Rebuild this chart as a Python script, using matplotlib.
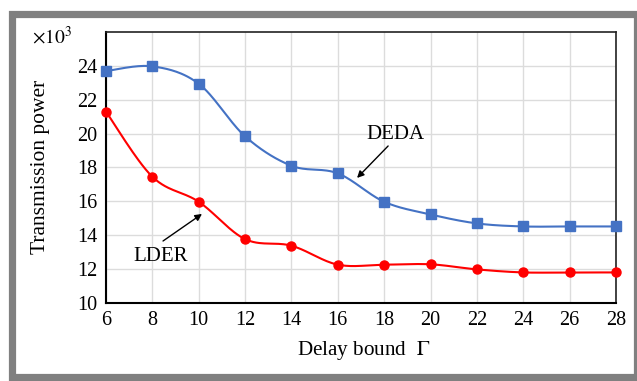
import matplotlib
matplotlib.use("Agg")
import matplotlib.pyplot as plt
import numpy as np
from matplotlib.patches import Rectangle

# data (values in units of 10^3)
delay_bound = [6, 8, 10, 12, 14, 16, 18, 20, 22, 24, 26, 28]
deda = [23.7, 23.98, 22.95, 19.84, 18.1, 17.65, 15.97, 15.22, 14.69, 14.51, 14.51, 14.51]
lder = [21.3, 17.45, 15.97, 13.76, 13.37, 12.25, 12.25, 12.27, 11.97, 11.79, 11.79, 11.79]
y_ticks = [10, 12, 14, 16, 18, 20, 22, 24]

plt.rcParams['font.family'] = ['Liberation Serif', 'DejaVu Serif']
plt.rcParams['mathtext.fontset'] = 'stix'


def smooth(xs, ys, n=30):
    # Bezier smoothing through the points, like spreadsheet "smoothed line"
    x = np.asarray(xs, float)
    y = np.asarray(ys, float)
    px = np.concatenate([[x[0]], x, [x[-1]]])
    py = np.concatenate([[y[0]], y, [y[-1]]])
    out_x, out_y = [], []
    t = np.linspace(0, 1, n)
    for i in range(1, len(px) - 2):
        p0 = np.array([px[i], py[i]])
        p3 = np.array([px[i + 1], py[i + 1]])
        p1 = p0 + (np.array([px[i + 1], py[i + 1]]) - np.array([px[i - 1], py[i - 1]])) / 6
        p2 = p3 - (np.array([px[i + 2], py[i + 2]]) - np.array([px[i], py[i]])) / 6
        b = ((1 - t) ** 3)[:, None] * p0 + (3 * (1 - t) ** 2 * t)[:, None] * p1 \
            + (3 * (1 - t) * t ** 2)[:, None] * p2 + (t ** 3)[:, None] * p3
        out_x.extend(b[:, 0])
        out_y.extend(b[:, 1])
    return out_x, out_y


W, H = 637, 381
fig = plt.figure(figsize=(W / 100, H / 100), dpi=100)
ax = fig.add_axes([106 / W, 1 - 302.7 / H, (616 - 106) / W, (302.7 - 32.2) / H])

blue = '#4472C4'
red = '#FF0000'
sx, sy = smooth(delay_bound, deda)
ax.plot(sx, sy, color=blue, lw=1.5, zorder=3)
ax.plot(delay_bound, deda, ls='none', marker='s', ms=6.5, color=blue, zorder=4, clip_on=False)
sx, sy = smooth(delay_bound, lder)
ax.plot(sx, sy, color=red, lw=1.5, zorder=3)
ax.plot(delay_bound, lder, ls='none', marker='o', ms=6.5, color=red, zorder=4, clip_on=False)

ax.set_xlim(6, 28)
ax.set_ylim(10, 26)
ax.set_xticks(delay_bound)
ax.set_yticks(y_ticks)
ax.tick_params(length=0, labelsize=14.5, pad=6)
ax.grid(True, color='#dcdcdc', lw=1)
ax.set_axisbelow(True)
for side in ['left', 'bottom']:
    ax.spines[side].set_linewidth(1.5)
    ax.spines[side].set_color('black')
for side in ['top', 'right']:
    ax.spines[side].set_linewidth(1.2)
    ax.spines[side].set_color('#222222')

fig.text(41 / W, 1 - 167 / H, 'Transmission power', fontsize=15.5, rotation=90,
         ha='center', va='center')
fig.text(364 / W, 1 - 350 / H, r'Delay bound  $\Gamma$', fontsize=15.2,
         ha='center', va='center')
fig.text(32 / W, 1 - 37 / H, r'$\times10^3$', fontsize=14, va='center', ha='left')

ax.text(18.47, 19.92, 'DEDA', fontsize=15, ha='center', va='center')
ax.annotate('', xy=(16.83, 17.38), xytext=(18.17, 19.27),
            arrowprops=dict(arrowstyle='-|>', color='black', lw=1, mutation_scale=10,
                            shrinkA=0, shrinkB=0))
ax.text(8.37, 12.76, 'LDER', fontsize=15, ha='center', va='center')
ax.annotate('', xy=(10.14, 15.25), xytext=(8.46, 13.65),
            arrowprops=dict(arrowstyle='-|>', color='black', lw=1, mutation_scale=10,
                            shrinkA=0, shrinkB=0))

# gray border around the whole picture
fig.patches.append(Rectangle((12 / W, 4 / H), (637 - 12) / W, (377 - 9.5 - 4) / H,
                             transform=fig.transFigure, fill=False,
                             edgecolor='#808080', lw=5.2))

fig.savefig('out.png', dpi=100)
